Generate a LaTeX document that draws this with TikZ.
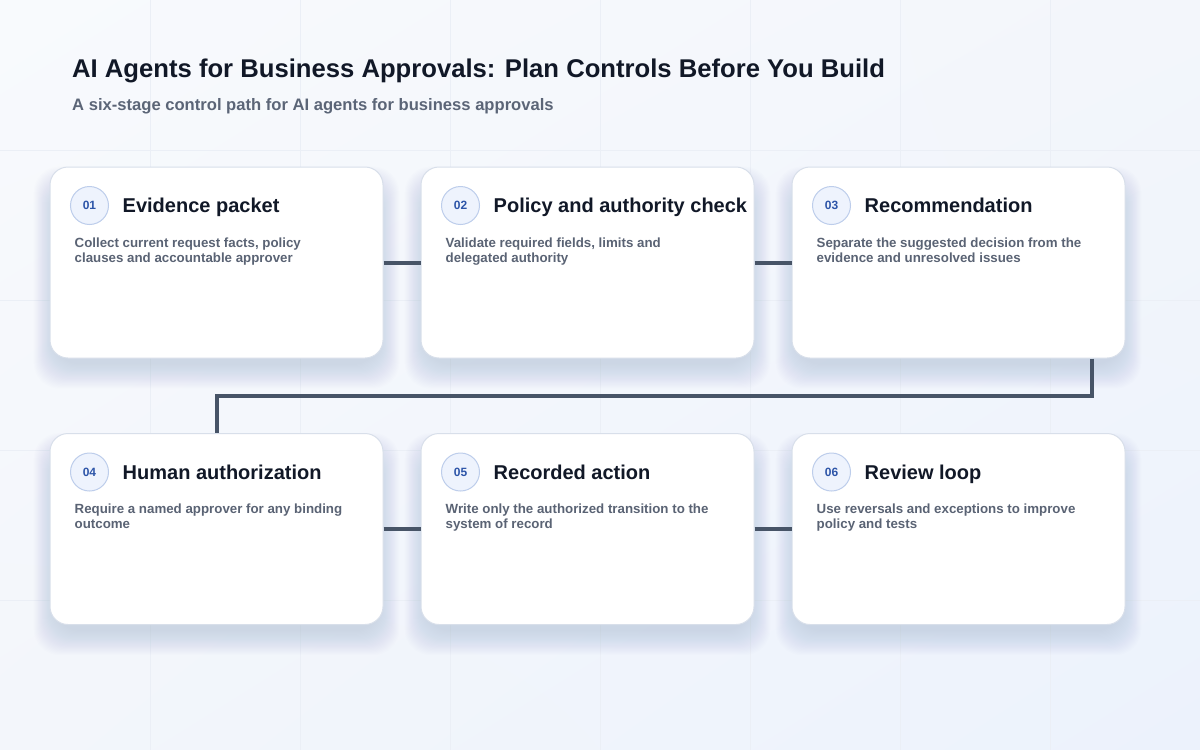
\documentclass[tikz,border=0pt]{standalone}
\usepackage{fontspec}
\setmainfont{Liberation Sans}
\usetikzlibrary{calc,shadings}
\definecolor{bgA}{HTML}{F8FAFD}
\definecolor{bgB}{HTML}{F3F6FB}
\definecolor{bgC}{HTML}{ECF2FC}
\definecolor{gridc}{HTML}{EBEFF6}
\definecolor{titlec}{HTML}{111827}
\definecolor{subc}{HTML}{5B6577}
\definecolor{descc}{HTML}{5A6374}
\definecolor{cardborder}{HTML}{D8DFEA}
\definecolor{shadowc}{HTML}{7F90B5}
\definecolor{connc}{HTML}{475467}
\definecolor{badgefill}{HTML}{EEF3FD}
\definecolor{badgeborder}{HTML}{BDCDEB}
\definecolor{badgetext}{HTML}{2D55A8}
\pgfdeclarelayer{bg}
\pgfsetlayers{bg,main}
\begin{document}
\begin{tikzpicture}[x=1pt,y=-1pt,
  card/.style={rectangle, rounded corners=18pt, draw=cardborder, line width=1pt, fill=white,
    minimum width=333pt, minimum height=191pt, inner sep=0pt},
  badge/.style={circle, draw=badgeborder, line width=1pt, fill=badgefill, minimum size=38pt, inner sep=0pt,
    text=badgetext, font=\fontsize{12}{14}\selectfont\bfseries},
  ctitle/.style={inner sep=0pt, text=titlec, font=\fontsize{20}{24}\selectfont\bfseries},
  cdesc/.style={inner sep=0pt, text=descc, align=left, font=\fontsize{13.3}{15}\selectfont\bfseries},
  conn/.style={draw=connc, line width=4pt},
  shadowlayer/.style={fill=shadowc, opacity=0.011, rounded corners=26pt}
]
\useasboundingbox (0,0) rectangle (1200,750);

\node[anchor=base west, inner sep=0pt, text=titlec, font=\fontsize{25.65}{30}\selectfont\bfseries] (title) at (72,77) {AI Agents for Business Approvals: Plan Controls Before You Build};
\node[anchor=base west, inner sep=0pt, text=subc, font=\fontsize{16.6}{19}\selectfont\bfseries] (subtitle) at (72,110) {A six-stage control path for AI agents for business approvals};

% cards
\node[card] (c1) at (216.5,262.5) {};
\node[card] (c2) at (587.5,262.5) {};
\node[card] (c3) at (958.5,262.5) {};
\node[card] (c4) at (216.5,529) {};
\node[card] (c5) at (587.5,529) {};
\node[card] (c6) at (958.5,529) {};

\begin{pgfonlayer}{bg}
\shade[upper left=bgA, upper right=bgB, lower left=bgB, lower right=bgC] (0,0) rectangle (1200,750);
\foreach \gx in {150,300,...,1050} \draw[gridc, line width=1pt] (\gx,0) -- (\gx,750);
\foreach \gy in {150,300,...,600} \draw[gridc, line width=1pt] (0,\gy) -- (1200,\gy);
\foreach \c in {c1,c2,c3,c4,c5,c6}{
  \foreach \k in {0,...,22}{
    \fill[shadowlayer] ($(\c.north west)+(-0.9*\k+4,22-\k)$) rectangle ($(\c.south east)+(0.9*\k-4,6+1.1*\k)$);
  }
}
\end{pgfonlayer}

% card 1
\node[badge] (b1) at ($(c1.north west)+(40,39)$) {01};
\node[ctitle, anchor=base west] (t1) at ($(c1.north west)+(73,46)$) {Evidence packet};
\node[cdesc, anchor=north west] (d1) at ($(c1.north west)+(25,71)$) {Collect current request facts, policy\\clauses and accountable approver};
% card 2
\node[badge] (b2) at ($(c2.north west)+(40,39)$) {02};
\node[ctitle, anchor=base west] (t2) at ($(c2.north west)+(73,46)$) {Policy and authority check};
\node[cdesc, anchor=north west] (d2) at ($(c2.north west)+(25,71)$) {Validate required fields, limits and\\delegated authority};
% card 3
\node[badge] (b3) at ($(c3.north west)+(40,39)$) {03};
\node[ctitle, anchor=base west] (t3) at ($(c3.north west)+(73,46)$) {Recommendation};
\node[cdesc, anchor=north west] (d3) at ($(c3.north west)+(25,71)$) {Separate the suggested decision from the\\evidence and unresolved issues};
% card 4
\node[badge] (b4) at ($(c4.north west)+(40,39)$) {04};
\node[ctitle, anchor=base west] (t4) at ($(c4.north west)+(73,46)$) {Human authorization};
\node[cdesc, anchor=north west] (d4) at ($(c4.north west)+(25,71)$) {Require a named approver for any binding\\outcome};
% card 5
\node[badge] (b5) at ($(c5.north west)+(40,39)$) {05};
\node[ctitle, anchor=base west] (t5) at ($(c5.north west)+(73,46)$) {Recorded action};
\node[cdesc, anchor=north west] (d5) at ($(c5.north west)+(25,71)$) {Write only the authorized transition to the\\system of record};
% card 6
\node[badge] (b6) at ($(c6.north west)+(40,39)$) {06};
\node[ctitle, anchor=base west] (t6) at ($(c6.north west)+(73,46)$) {Review loop};
\node[cdesc, anchor=north west] (d6) at ($(c6.north west)+(25,71)$) {Use reversals and exceptions to improve\\policy and tests};

% connectors
\draw[conn] (c1.east) -- (c2.west);
\draw[conn] (c2.east) -- (c3.west);
\draw[conn] (c4.east) -- (c5.west);
\draw[conn] (c5.east) -- (c6.west);
\coordinate (s3) at ($(c3.south east)+(-34,0)$);
\coordinate (midrow) at (0,395.5);
\draw[conn] (s3) -- (s3 |- midrow) -- (c4.north |- midrow) -- (c4.north);
\end{tikzpicture}
\end{document}
